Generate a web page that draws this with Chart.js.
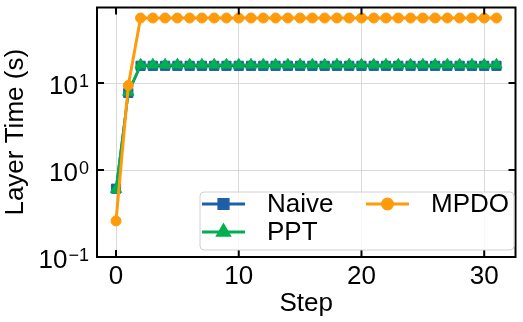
<!DOCTYPE html>
<html>
<head>
<meta charset="utf-8">
<script src="https://cdn.jsdelivr.net/npm/chart.js@4.4.0/dist/chart.umd.min.js"></script>
<style>
  html, body { margin: 0; padding: 0; background: #fff; }
  #wrap { width: 523px; height: 322px; }
</style>
</head>
<body>
<div id="wrap"><canvas id="layerChart"></canvas></div>
<script>
// values
const steps = [0, 1, 2, 3, 4, 5, 6, 7, 8, 9, 10, 11, 12, 13, 14, 15,
               16, 17, 18, 19, 20, 21, 22, 23, 24, 25, 26, 27, 28, 29, 30, 31];
const naiveTimes = [0.61, 7.7, 15.8, 15.8, 15.8, 15.8, 15.8, 15.8, 15.8, 15.8, 15.8, 15.8, 15.8, 15.8, 15.8, 15.8,
                    15.8, 15.8, 15.8, 15.8, 15.8, 15.8, 15.8, 15.8, 15.8, 15.8, 15.8, 15.8, 15.8, 15.8, 15.8, 15.8];
const pptTimes = [0.6, 7.9, 16.2, 16.2, 16.2, 16.2, 16.2, 16.2, 16.2, 16.2, 16.2, 16.2, 16.2, 16.2, 16.2, 16.2,
                  16.2, 16.2, 16.2, 16.2, 16.2, 16.2, 16.2, 16.2, 16.2, 16.2, 16.2, 16.2, 16.2, 16.2, 16.2, 16.2];
const mpdoTimes = [0.26, 9.4, 56, 56, 56, 56, 56, 56, 56, 56, 56, 56, 56, 56, 56, 56,
                   56, 56, 56, 56, 56, 56, 56, 56, 56, 56, 56, 56, 56, 56, 56, 56];
const xTickValues = [0, 10, 20, 30];
const yTickValues = [0.1, 1, 10];
const yTickExponents = ['\u22121', '0', '1'];

const FONT = "'Liberation Sans', Arial, sans-serif";
const BLUE = '#1f5fa6', GREEN = '#00b04f', ORANGE = '#ff9a0a';

function toPoints(vals) {
    return steps.map((s, i) => ({ x: s, y: vals[i] }));
}

// frame, inward ticks and superscript y labels
const axesDecor = {
    id: 'axesDecor',
    afterDatasetsDraw(chart) {
        const ctx = chart.ctx;
        const a = chart.chartArea;
        const xs = chart.scales.x, ys = chart.scales.y;
        ctx.save();
        ctx.strokeStyle = '#000';
        ctx.lineWidth = 2;
        ctx.strokeRect(a.left, a.top, a.right - a.left, a.bottom - a.top);
        const tl = 7;
        ctx.beginPath();
        xTickValues.forEach(v => {
            const px = xs.getPixelForValue(v);
            ctx.moveTo(px, a.bottom); ctx.lineTo(px, a.bottom - tl);
            ctx.moveTo(px, a.top); ctx.lineTo(px, a.top + tl);
        });
        yTickValues.forEach(v => {
            const py = ys.getPixelForValue(v);
            ctx.moveTo(a.left, py); ctx.lineTo(a.left + tl, py);
            ctx.moveTo(a.right, py); ctx.lineTo(a.right - tl, py);
        });
        ctx.stroke();

        // y tick labels: 10 with exponent
        ctx.fillStyle = '#000';
        ctx.textBaseline = 'alphabetic';
        ctx.textAlign = 'left';
        yTickValues.forEach((v, i) => {
            const py = ys.getPixelForValue(v);
            ctx.font = '18px ' + FONT;
            const ew = ctx.measureText(yTickExponents[i]).width;
            const right = a.left - 8;
            ctx.fillText(yTickExponents[i], right - ew, py + 4);
            ctx.font = '26px ' + FONT;
            const bw = ctx.measureText('10').width;
            ctx.fillText('10', right - ew - bw - 1, py + 11);
        });
        ctx.restore();
    }
};

// two-column legend in the lower right
const cornerLegend = {
    id: 'cornerLegend',
    afterDraw(chart) {
        const ctx = chart.ctx;
        const items = [
            { label: 'Naive', color: BLUE, style: 'rect', x: 202, y: 204 },
            { label: 'PPT', color: GREEN, style: 'triangle', x: 202, y: 232 },
            { label: 'MPDO', color: ORANGE, style: 'circle', x: 366, y: 204 }
        ];
        ctx.save();
        const bx = 200, by = 192, bw = 314, bh = 58;
        ctx.beginPath();
        ctx.roundRect(bx, by, bw, bh, 4);
        ctx.fillStyle = 'rgba(255,255,255,0.8)';
        ctx.fill();
        ctx.strokeStyle = '#d0d0d0';
        ctx.lineWidth = 1;
        ctx.stroke();
        items.forEach(it => {
            ctx.strokeStyle = it.color;
            ctx.lineWidth = 3;
            ctx.beginPath();
            ctx.moveTo(it.x, it.y); ctx.lineTo(it.x + 43, it.y);
            ctx.stroke();
            ctx.fillStyle = it.color;
            Chart.helpers.drawPoint(ctx, {
                pointStyle: it.style,
                radius: it.style === 'rect' ? 6.5 : (it.style === 'triangle' ? 6.5 : 5),
                rotation: 0,
                borderWidth: 1
            }, it.x + 21.5, it.y);
            ctx.fillStyle = '#000';
            ctx.font = '26px ' + FONT;
            ctx.textBaseline = 'middle';
            ctx.textAlign = 'left';
            ctx.fillText(it.label, it.x + 65, it.y + 1);
        });
        ctx.restore();
    }
};

const chart = new Chart(document.getElementById('layerChart'), {
    type: 'line',
    data: {
        datasets: [
            {
                label: 'Naive', data: toPoints(naiveTimes), order: 3,
                borderColor: BLUE, backgroundColor: BLUE, borderWidth: 2.5,
                pointStyle: 'rect', pointRadius: 6.5, pointBorderWidth: 1
            },
            {
                label: 'PPT', data: toPoints(pptTimes), order: 2,
                borderColor: GREEN, backgroundColor: GREEN, borderWidth: 2.5,
                pointStyle: 'triangle', pointRadius: 6.5, pointBorderWidth: 1
            },
            {
                label: 'MPDO', data: toPoints(mpdoTimes), order: 1,
                borderColor: ORANGE, backgroundColor: ORANGE, borderWidth: 3,
                pointStyle: 'circle', pointRadius: 5, pointBorderWidth: 1
            }
        ]
    },
    options: {
        responsive: true,
        maintainAspectRatio: false,
        animation: false,
        layout: { padding: { left: 0, right: 4, top: 3, bottom: 0 } },
        plugins: {
            legend: { display: false },
            tooltip: { enabled: false }
        },
        scales: {
            x: {
                type: 'linear',
                min: -1.55,
                max: 32.55,
                afterBuildTicks: s => { s.ticks = xTickValues.map(v => ({ value: v })); },
                afterFit: s => { s.height = 65; },
                grid: { color: '#d9d9d9', lineWidth: 1, drawTicks: false },
                border: { display: false },
                ticks: { color: '#000', padding: 4, font: { family: FONT, size: 26 } },
                title: {
                    display: true, text: 'Step', color: '#000',
                    font: { family: FONT, size: 26 }, padding: { top: 0, bottom: 3 }
                }
            },
            y: {
                type: 'logarithmic',
                min: 0.1,
                max: 74,
                afterBuildTicks: s => { s.ticks = yTickValues.map(v => ({ value: v })); },
                afterFit: s => { s.width = 97; },
                grid: { color: '#d9d9d9', lineWidth: 1, drawTicks: false },
                border: { display: false },
                ticks: { display: false },
                title: {
                    display: true, text: 'Layer Time (s)', color: '#000',
                    font: { family: FONT, size: 26 }, padding: 0
                }
            }
        }
    },
    plugins: [axesDecor, cornerLegend]
});
</script>
</body>
</html>
